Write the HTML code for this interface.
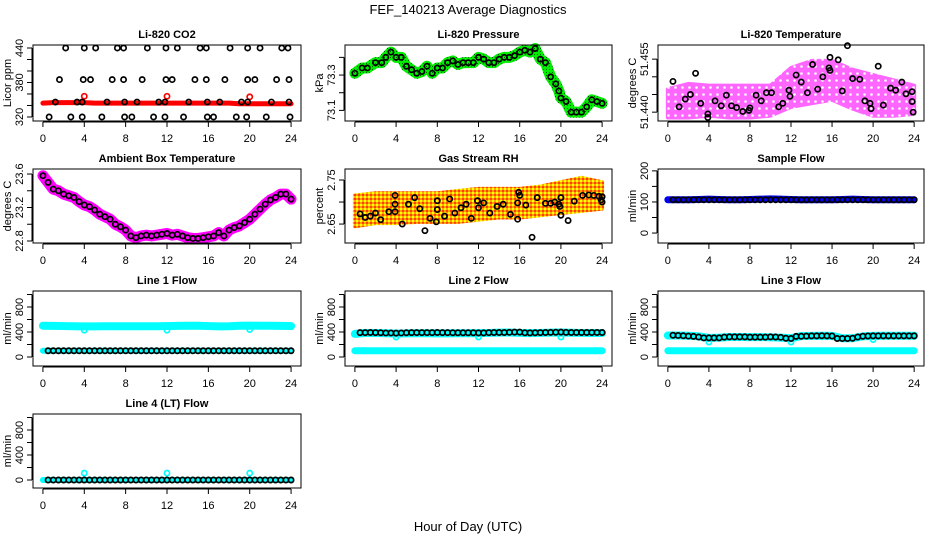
<!DOCTYPE html>
<html><head><meta charset="utf-8"><style>
html,body{margin:0;padding:0;background:#fff}
svg{display:block;font-family:"Liberation Sans",sans-serif}
</style></head><body>
<svg id="c" width="936" height="540" viewBox="0 0 936 540">
<defs>
<pattern id="rhpat" width="4" height="4" patternUnits="userSpaceOnUse"><rect width="4" height="4" fill="#ffa500"/><rect x="0" y="0" width="2" height="2" fill="#ffff00"/><rect x="2" y="2" width="2" height="2" fill="#ff4000"/></pattern>
<pattern id="grpat" width="3" height="3" patternUnits="userSpaceOnUse"><rect width="3" height="3" fill="#00ee00"/><rect width="1" height="1" fill="#006000"/></pattern>
<pattern id="pkpat" width="7" height="7" patternUnits="userSpaceOnUse"><rect width="7" height="7" fill="#ff66ff"/><circle cx="3.5" cy="3.5" r="1.3" fill="#fff"/></pattern>
</defs>
<text x="468" y="14" text-anchor="middle" font-size="13">FEF_140213  Average Diagnostics</text>
<text x="468" y="531" text-anchor="middle" font-size="13">Hour of Day (UTC)</text>
</svg>
<script>
// ---- data ----
const hours = [0,1,2,3,4,5,6,7,8,9,10,11,12,13,14,15,16,17,18,19,20,21,22,23,24];
const halfHours = [0.5,1,1.5,2,2.5,3,3.5,4,4.5,5,5.5,6,6.5,7,7.5,8,8.5,9,9.5,10,10.5,11,11.5,12,12.5,13,13.5,14,14.5,15,15.5,16,16.5,17,17.5,18,18.5,19,19.5,20,20.5,21,21.5,22,22.5,23,23.5,24];
const xTickLabels = ["0","4","8","12","16","20","24"];

// CO2
const co2Band = [344,345,345,345,345,344,344,344,344,344,344,344,344,344,344,344,344,344,344,343,343,343,343,343,343];
const co2OutT = [4,12,20];
const co2OutV = [356,356,355];
const co2PtsT = [2.2,4.0,5.1,7.2,7.8,10.1,11.9,13.0,15.2,15.8,18.1,19.8,21.0,23.1,23.7,
 1.6,3.9,4.6,6.7,7.8,9.6,11.9,12.5,14.7,15.8,17.6,19.8,20.5,22.6,23.8,
 1.2,3.3,3.8,6.2,7.9,9.1,11.2,11.8,14.1,15.9,17.1,19.2,19.8,22.1,23.8,
 0.6,2.7,3.8,5.7,7.9,8.6,10.7,11.8,13.6,15.9,16.5,18.7,19.7,21.6,23.9];
const co2PtsV = [440,440,440,440,440,440,440,440,440,440,440,440,440,440,440,
 385,385,385,385,385,385,385,385,385,385,385,385,385,385,385,
 346,346,346,346,346,346,346,346,346,346,346,346,346,346,346,
 320,320,320,320,320,320,320,320,320,320,320,320,320,320,320];

// Pressure
const pressT = [0,0.7,1.2,2,2.6,3,3.5,4,4.5,5,5.5,6,6.5,7,7.5,8,8.5,9,9.5,10,10.5,11,11.5,12,12.5,13,13.5,14,14.5,15,15.5,16,16.5,17,17.5,18,18.5,19,19.5,19.8,20,20.5,21,21.5,22,22.5,23,23.5,24];
const pressV = [73.31,73.34,73.34,73.37,73.37,73.40,73.43,73.40,73.40,73.35,73.33,73.31,73.32,73.35,73.31,73.34,73.34,73.37,73.38,73.36,73.37,73.37,73.37,73.40,73.39,73.37,73.37,73.39,73.40,73.40,73.41,73.43,73.44,73.43,73.45,73.39,73.37,73.29,73.25,73.21,73.17,73.15,73.09,73.09,73.09,73.12,73.16,73.15,73.14];

// Li-820 temperature
const tempBandT = [0,2,4,6,8,10,12,14,16,18,20,22,24];
const tempLow = [51.4385,51.4385,51.439,51.4385,51.4385,51.439,51.4415,51.4425,51.4435,51.441,51.439,51.439,51.4395];
const tempHigh = [51.4465,51.448,51.4475,51.4475,51.4475,51.4475,51.4525,51.4545,51.4545,51.452,51.4505,51.449,51.4475];
const tempPtsT = [0.5,1.1,1.7,2.2,2.7,3.2,3.9,3.9,4.6,5.2,5.7,6.2,6.7,7.3,7.9,8.0,8.6,9.1,9.6,10.1,10.8,11.2,11.8,11.9,12.5,13.0,13.6,14.1,14.6,15.1,15.7,15.8,15.8,16.6,17.0,17.5,18.0,18.7,19.2,19.7,19.8,20.5,21.0,21.7,22.2,22.8,23.2,23.8,23.8,23.9];
const tempPtsV = [51.4487,51.4415,51.4437,51.445,51.451,51.4425,51.4385,51.4395,51.4432,51.4418,51.4448,51.4418,51.4413,51.4402,51.4405,51.4412,51.4448,51.4432,51.4455,51.4455,51.4415,51.4425,51.4462,51.4445,51.4505,51.4485,51.4455,51.4535,51.4465,51.45,51.4525,51.4518,51.4555,51.4548,51.446,51.4588,51.4495,51.4493,51.4432,51.4425,51.441,51.453,51.442,51.4468,51.4462,51.4485,51.4452,51.4458,51.443,51.44];

// Ambient box temperature
const ambT = [0,0.5,1,1.5,2,2.5,3,3.5,4,4.5,5,5.5,6,6.5,7,7.5,8,8.5,9,9.5,10,10.5,11,11.5,12,12.5,13,13.5,14,14.5,15,15.5,16,16.5,17,17.5,18,18.5,19,19.5,20,20.5,21,21.5,22,22.5,23,23.5,24];
const ambV = [23.58,23.50,23.42,23.40,23.36,23.34,23.32,23.27,23.23,23.21,23.17,23.12,23.09,23.06,23.00,22.97,22.93,22.86,22.84,22.86,22.87,22.86,22.87,22.88,22.89,22.87,22.88,22.86,22.84,22.83,22.83,22.84,22.85,22.86,22.90,22.86,22.93,22.96,22.98,23.02,23.06,23.12,23.18,23.24,23.29,23.32,23.36,23.36,23.30];

// Gas stream RH
const rhBandT = [0,2,4,6,8,10,12,14,16,18,20,22,24];
const rhLow = [2.645,2.652,2.652,2.655,2.655,2.655,2.66,2.665,2.665,2.67,2.675,2.68,2.685];
const rhHigh = [2.715,2.72,2.72,2.72,2.72,2.725,2.73,2.73,2.73,2.735,2.745,2.755,2.745];
const rhPtsT = [0.5,1,1.5,2,2.5,3.3,3.9,3.9,3.9,4.6,5.2,5.8,6.3,6.8,7.3,7.9,8.0,8.0,8.7,9.2,9.7,10.3,10.8,11.3,11.9,12.0,12.5,13.1,13.8,14.4,15.1,15.8,15.8,15.9,16.0,16.6,17.2,17.7,18.5,19.0,19.4,19.8,19.9,20.0,20.0,20.7,21.3,22.1,22.7,23.2,23.7,23.9,24,24];
const rhPtsV = [2.673,2.665,2.668,2.675,2.66,2.678,2.678,2.695,2.715,2.65,2.695,2.71,2.685,2.635,2.663,2.655,2.683,2.703,2.668,2.707,2.675,2.687,2.695,2.663,2.703,2.687,2.698,2.675,2.69,2.695,2.672,2.698,2.661,2.722,2.715,2.693,2.62,2.71,2.697,2.697,2.7,2.695,2.69,2.71,2.67,2.658,2.702,2.715,2.716,2.715,2.713,2.705,2.712,2.7];

// Sample flow
const sampleBand = [107,107,107,108,109,108,107,107,108,109,110,109,108,107,107,107,107,108,109,108,107,107,107,107,107];
const sampleBlack = [107,107,107,107,107,107,107,107,107,107,107,107,107,107,107,107,107,107,107,107,107,107,107,107,107,107,107,107,107,107,107,107,107,107,107,107,107,107,107,107,107,107,107,107,107,107,107,107];

// Line flows
const line1Cyan = [500,498,495,492,490,490,492,492,492,492,492,492,495,498,500,500,495,490,492,500,502,500,500,498,495];
const line1Low = [100,100,100,100,100,100,100,100,100,100,100,100,100,100,100,100,100,100,100,100,100,100,100,100,100];
const line1Black = [100,100,100,100,100,100,100,100,100,100,100,100,100,100,100,100,100,100,100,100,100,100,100,100,100,100,100,100,100,100,100,100,100,100,100,100,100,100,100,100,100,100,100,100,100,100,100,100];
const line1OutT = [4,12,20]; const line1OutV = [430,430,440];

const line2Cyan = [370,385,385,380,375,378,380,380,378,378,380,380,382,385,390,392,385,382,385,390,392,388,385,385,385];
const line2Low = [100,100,100,100,100,100,100,100,100,100,100,100,100,100,100,100,100,100,100,100,100,100,100,100,100];
const line2Black = [390,390,392,390,388,385,385,382,385,388,390,390,390,390,390,392,390,390,388,388,388,388,388,386,386,390,392,392,392,395,398,398,388,386,388,390,392,394,396,398,394,392,392,392,392,392,392,392];
const line2OutT = [4,12,20]; const line2OutV = [320,320,320];

const line3Cyan = [345,345,340,330,305,310,320,320,318,318,315,310,300,335,338,340,338,300,300,330,338,340,340,340,340];
const line3Low = [100,100,100,100,100,100,100,100,100,100,100,100,100,100,100,100,100,100,100,100,100,100,100,100,100];
const line3Black = [348,345,340,335,330,320,306,306,306,306,318,322,322,322,322,318,318,318,318,322,320,315,300,296,330,332,335,338,338,340,338,336,296,296,296,300,320,332,336,338,338,338,338,338,338,338,338,338];
const line3OutT = [4,12,20]; const line3OutV = [240,240,280];

const line4Low = [0,0,0,0,0,0,0,0,0,0,0,0,0,0,0,0,0,0,0,0,0,0,0,0,0];
const line4Black = [0,0,0,0,0,0,0,0,0,0,0,0,0,0,0,0,0,0,0,0,0,0,0,0,0,0,0,0,0,0,0,0,0,0,0,0,0,0,0,0,0,0,0,0,0,0,0,0];
const line4OutT = [4,12,20]; const line4OutV = [110,110,110];

// ---- drawing ----
const svg = document.getElementById('c');
const NS = 'http://www.w3.org/2000/svg';
function mk(tag, attrs, parent){ const e=document.createElementNS(NS,tag); for(const k in attrs) e.setAttribute(k,attrs[k]); (parent||svg).appendChild(e); return e; }

const cols = [[33,301],[345,612],[658,924]];
const rows = [[45,121],[169,243],[291,366],[414,488]];

function panel(name, c, r, title, ylab, ymin, ymax, yticks, ylabels){
  const [x0,x1]=cols[c], [y0,y1]=rows[r];
  const g = mk('g',{});
  
  
  const sx = t => x0 + (t + 0.96) / 25.92 * (x1 - x0);
  const sy = v => y1 - (v - ymin) / (ymax - ymin) * (y1 - y0);
  const plot = mk('g',{},g);
  const xa = mk('g',{},g);
  
  
  mk('line',{x1:sx(0),x2:sx(24),y1:y1+1,y2:y1+1,stroke:'#000'},xa);
  xTickLabels.forEach(l=>{ const t=+l; mk('line',{x1:sx(t),x2:sx(t),y1:y1+1,y2:y1+6,stroke:'#000'},xa);
    const tx=mk('text',{x:sx(t),y:y1+21,'text-anchor':'middle','font-size':11},xa); tx.textContent=l; });
  const ya = mk('g',{},g);
  
  
  mk('line',{x1:x0-1,x2:x0-1,y1:sy(yticks[0]),y2:sy(yticks[yticks.length-1]),stroke:'#000'},ya);
  yticks.forEach(v=>{ mk('line',{x1:x0-6,x2:x0-1,y1:sy(v),y2:sy(v),stroke:'#000'},ya); });
  ylabels.forEach(l=>{ const v=+l; const tx=mk('text',{x:x0-10,y:sy(v),'text-anchor':'middle','font-size':11,transform:`rotate(-90 ${x0-10} ${sy(v)})`},ya); tx.textContent=l; });
  mk('rect',{x:x0,y:y0,width:x1-x0,height:y1-y0,fill:'none',stroke:'#000'},g);
  const tt=mk('text',{x:(x0+x1)/2,y:y0-7,'text-anchor':'middle','font-size':11,'font-weight':'bold'},g); tt.textContent=title;
  
  const yl=mk('text',{x:x0-22,y:(y0+y1)/2,'text-anchor':'middle','font-size':11,transform:`rotate(-90 ${x0-22} ${(y0+y1)/2})`},g); yl.textContent=ylab;
  
  return {g:plot,sx,sy};
}
function band(p, ts, vs, color, w, name){
  const pl = mk('polyline',{points:ts.map((t,i)=>p.sx(t)+','+p.sy(vs[i])).join(' '),fill:'none',stroke:color,'stroke-width':w,'stroke-linejoin':'round','stroke-linecap':'round'},p.g);
  
  
}
function area(p, ts, lo, hi, fill, name){
  const pts = ts.map((t,i)=>p.sx(t)+','+p.sy(hi[i])).concat(ts.slice().reverse().map((t,i)=>p.sx(t)+','+p.sy(lo[ts.length-1-i])));
  const pg = mk('polygon',{points:pts.join(' '),fill:fill,stroke:fill,'stroke-width':4,'stroke-linejoin':'round'},p.g);
  
  
}
function pts(p, ts, vs, color, name){
  ts.forEach((t,i)=>{ const c=mk('circle',{cx:p.sx(t),cy:p.sy(vs[i]),r:2.6,fill:'none',stroke:color,'stroke-width':1.7},p.g);
    
     });
}

let p;
p = panel('co2',0,0,'Li-820 CO2','Licor ppm',313,445.2,[320,340,360,380,400,420,440],['320','380','440']);
band(p,hours,co2Band,'#ff0000',5,'co2-band');
pts(p,co2OutT,co2OutV,'#ff0000','co2-outlier');
pts(p,co2PtsT,co2PtsV,'#000','co2-point');

p = panel('pressure',1,0,'Li-820 Pressure','kPa',73.04,73.47,[73.1,73.2,73.3,73.4],['73.1','73.3']);
band(p,pressT,pressV,'url(#grpat)',11,'pressure-band');
pts(p,pressT,pressV,'#000','pressure-point');

p = panel('licor-temp',2,0,'Li-820 Temperature','degrees C',51.4375,51.459,[51.44,51.445,51.45,51.455],['51.440','51.455']);
area(p,tempBandT,tempLow,tempHigh,'url(#pkpat)','licor-temp-cloud');
pts(p,tempPtsT,tempPtsV,'#000','licor-temp-point');

p = panel('ambient',0,1,'Ambient Box Temperature','degrees C',22.776,23.66,[22.8,23.0,23.2,23.4,23.6],['22.8','23.2','23.6']);
band(p,ambT,ambV,'#ff00ff',11,'ambient-band');
pts(p,ambT,ambV,'#000','ambient-point');

p = panel('rh',1,1,'Gas Stream RH','percent',2.607,2.775,[2.65,2.7,2.75],['2.65','2.75']);
area(p,rhBandT,rhLow,rhHigh,'url(#rhpat)','rh-cloud');
pts(p,rhPtsT,rhPtsV,'#000','rh-point');

p = panel('sample-flow',2,1,'Sample Flow','ml/min',-32,206,[0,50,100,150,200],['0','100','200']);
band(p,hours,sampleBand,'#0000ee',7,'sample-band');
pts(p,halfHours,sampleBlack,'#000','sample-point');

const fT=[0,200,400,600,800,1000], fL=['0','400','800'];
p = panel('line1',0,2,'Line 1 Flow','ml/min',-144,1056,fT,fL);
band(p,hours,line1Cyan,'#00ffff',8,'line1-upper-band');
band(p,hours,line1Low,'#00ffff',6,'line1-lower-band');
pts(p,line1OutT,line1OutV,'#00ffff','line1-outlier');
pts(p,halfHours,line1Black,'#000','line1-point');

p = panel('line2',1,2,'Line 2 Flow','ml/min',-144,1056,fT,fL);
band(p,hours,line2Cyan,'#00ffff',8,'line2-upper-band');
band(p,hours,line2Low,'#00ffff',7,'line2-lower-band');
pts(p,line2OutT,line2OutV,'#00ffff','line2-outlier');
pts(p,halfHours,line2Black,'#000','line2-point');

p = panel('line3',2,2,'Line 3 Flow','ml/min',-144,1056,fT,fL);
band(p,hours,line3Cyan,'#00ffff',8,'line3-upper-band');
band(p,hours,line3Low,'#00ffff',7,'line3-lower-band');
pts(p,line3OutT,line3OutV,'#00ffff','line3-outlier');
pts(p,halfHours,line3Black,'#000','line3-point');

p = panel('line4',0,3,'Line 4 (LT) Flow','ml/min',-128,1056,fT,fL);
band(p,hours,line4Low,'#00ffff',6,'line4-band');
pts(p,line4OutT,line4OutV,'#00ffff','line4-outlier');
pts(p,halfHours,line4Black,'#000','line4-point');
</script>
</body></html>
